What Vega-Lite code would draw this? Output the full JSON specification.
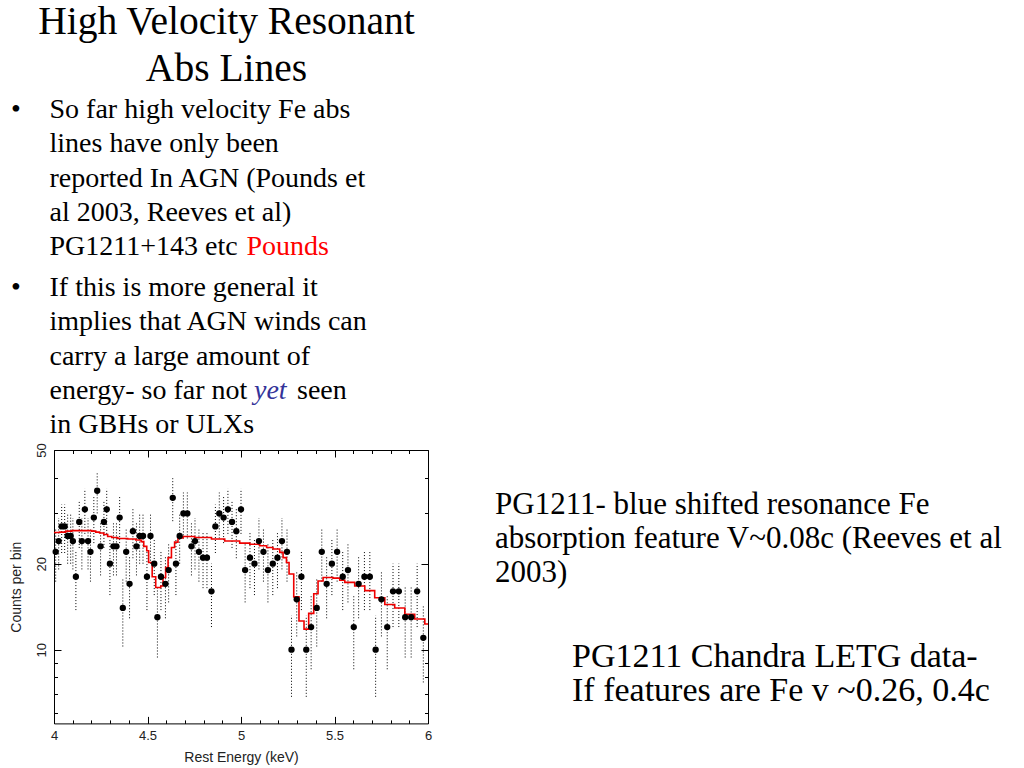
{
  "$schema": "https://vega.github.io/schema/vega-lite/v6.json",
  "background": "white",
  "padding": 0,
  "config": {"view": {"stroke": null}, "font": "Liberation Sans"},
  "columns": 2,
  "bounds": "flush",
  "align": "each",
  "center": true,
  "spacing": 0,
  "datasets": {
    "obs": [
      {"e":4.009,"n":22,"lo":17.31,"hi":26.69},{"e":4.025,"n":24,"lo":19.1,"hi":28.9},{"e":4.041,"n":27,"lo":21.8,"hi":32.2},{"e":4.057,"n":27,"lo":21.8,"hi":32.2},
      {"e":4.073,"n":25,"lo":20,"hi":30},{"e":4.089,"n":25,"lo":20,"hi":30},{"e":4.101,"n":24,"lo":19.1,"hi":28.9},{"e":4.117,"n":18,"lo":13.76,"hi":22.24},
      {"e":4.135,"n":28,"lo":22.71,"hi":33.29},{"e":4.149,"n":24,"lo":19.1,"hi":28.9},{"e":4.165,"n":31,"lo":25.43,"hi":36.57},{"e":4.182,"n":24,"lo":19.1,"hi":28.9},
      {"e":4.195,"n":22,"lo":17.31,"hi":26.69},{"e":4.213,"n":29,"lo":23.61,"hi":34.39},{"e":4.231,"n":36,"lo":30,"hi":42},{"e":4.249,"n":23,"lo":18.2,"hi":27.8},
      {"e":4.267,"n":28,"lo":22.71,"hi":33.29},{"e":4.282,"n":31,"lo":25.43,"hi":36.57},{"e":4.299,"n":20,"lo":15.53,"hi":24.47},{"e":4.318,"n":23,"lo":18.2,"hi":27.8},
      {"e":4.334,"n":23,"lo":18.2,"hi":27.8},{"e":4.351,"n":29,"lo":23.61,"hi":34.39},{"e":4.368,"n":14,"lo":10.26,"hi":17.74},{"e":4.386,"n":22,"lo":17.31,"hi":26.69},
      {"e":4.404,"n":17,"lo":12.88,"hi":21.12},{"e":4.422,"n":26,"lo":20.9,"hi":31.1},{"e":4.441,"n":23,"lo":18.2,"hi":27.8},{"e":4.458,"n":25,"lo":20,"hi":30},
      {"e":4.476,"n":25,"lo":20,"hi":30},{"e":4.497,"n":18,"lo":13.76,"hi":22.24},{"e":4.516,"n":25,"lo":20,"hi":30},{"e":4.536,"n":20,"lo":15.53,"hi":24.47},
      {"e":4.553,"n":13,"lo":9.39,"hi":16.61},{"e":4.572,"n":18,"lo":13.76,"hi":22.24},{"e":4.596,"n":17,"lo":12.88,"hi":21.12},{"e":4.613,"n":19,"lo":14.64,"hi":23.36},
      {"e":4.635,"n":34,"lo":28.17,"hi":39.83},{"e":4.652,"n":20,"lo":15.53,"hi":24.47},{"e":4.672,"n":25,"lo":20,"hi":30},{"e":4.692,"n":30,"lo":24.52,"hi":35.48},
      {"e":4.713,"n":30,"lo":24.52,"hi":35.48},{"e":4.735,"n":23,"lo":18.2,"hi":27.8},{"e":4.754,"n":24,"lo":19.1,"hi":28.9},{"e":4.775,"n":22,"lo":17.31,"hi":26.69},
      {"e":4.797,"n":21,"lo":16.42,"hi":25.58},{"e":4.818,"n":21,"lo":16.42,"hi":25.58},{"e":4.842,"n":16,"lo":12,"hi":20},{"e":4.863,"n":27,"lo":21.8,"hi":32.2},
      {"e":4.884,"n":30,"lo":24.52,"hi":35.48},{"e":4.907,"n":29,"lo":23.61,"hi":34.39},{"e":4.93,"n":31,"lo":25.43,"hi":36.57},{"e":4.952,"n":28,"lo":22.71,"hi":33.29},
      {"e":4.975,"n":26,"lo":20.9,"hi":31.1},{"e":5.0,"n":31,"lo":25.43,"hi":36.57},{"e":5.022,"n":19,"lo":14.64,"hi":23.36},{"e":5.048,"n":21,"lo":16.42,"hi":25.58},
      {"e":5.072,"n":20,"lo":15.53,"hi":24.47},{"e":5.096,"n":24,"lo":19.1,"hi":28.9},{"e":5.12,"n":22,"lo":17.31,"hi":26.69},{"e":5.144,"n":19,"lo":14.64,"hi":23.36},
      {"e":5.17,"n":20,"lo":15.53,"hi":24.47},{"e":5.195,"n":21,"lo":16.42,"hi":25.58},{"e":5.219,"n":24,"lo":19.1,"hi":28.9},{"e":5.246,"n":22,"lo":17.31,"hi":26.69},
      {"e":5.27,"n":10,"lo":6.84,"hi":13.16},{"e":5.298,"n":15,"lo":11.13,"hi":18.87},{"e":5.323,"n":18,"lo":13.76,"hi":22.24},{"e":5.349,"n":10,"lo":6.84,"hi":13.16},
      {"e":5.375,"n":12,"lo":8.54,"hi":15.46},{"e":5.405,"n":14,"lo":10.26,"hi":17.74},{"e":5.432,"n":22,"lo":17.31,"hi":26.69},{"e":5.458,"n":17,"lo":12.88,"hi":21.12},
      {"e":5.486,"n":20,"lo":15.53,"hi":24.47},{"e":5.514,"n":22,"lo":17.31,"hi":26.69},{"e":5.544,"n":18,"lo":13.76,"hi":22.24},{"e":5.572,"n":19,"lo":14.64,"hi":23.36},
      {"e":5.603,"n":12,"lo":8.54,"hi":15.46},{"e":5.629,"n":17,"lo":12.88,"hi":21.12},{"e":5.66,"n":18,"lo":13.76,"hi":22.24},{"e":5.689,"n":18,"lo":13.76,"hi":22.24},
      {"e":5.72,"n":10,"lo":6.84,"hi":13.16},{"e":5.751,"n":15,"lo":11.13,"hi":18.87},{"e":5.782,"n":12,"lo":8.54,"hi":15.46},{"e":5.813,"n":16,"lo":12,"hi":20},
      {"e":5.844,"n":16,"lo":12,"hi":20},{"e":5.878,"n":13,"lo":9.39,"hi":16.61},{"e":5.91,"n":13,"lo":9.39,"hi":16.61},{"e":5.942,"n":16,"lo":12,"hi":20},
      {"e":5.975,"n":11,"lo":7.68,"hi":14.32}
    ],
    "model": [
      {"e":4.0,"m":25.7},{"e":4.03,"m":25.8},{"e":4.063,"m":26.0},{"e":4.095,"m":26.1},{"e":4.202,"m":26.0},{"e":4.223,"m":25.8},
      {"e":4.244,"m":25.6},{"e":4.266,"m":25.3},{"e":4.287,"m":24.9},{"e":4.309,"m":24.7},{"e":4.341,"m":24.5},{"e":4.394,"m":24.4},
      {"e":4.437,"m":24.2},{"e":4.466,"m":23.9},{"e":4.48,"m":23.0},{"e":4.496,"m":22.2},{"e":4.506,"m":20.2},{"e":4.525,"m":18.0},
      {"e":4.544,"m":16.5},{"e":4.571,"m":16.7},{"e":4.583,"m":17.9},{"e":4.597,"m":19.4},{"e":4.61,"m":21.0},{"e":4.628,"m":22.8},
      {"e":4.645,"m":23.8},{"e":4.663,"m":24.6},{"e":4.69,"m":24.9},{"e":4.752,"m":24.7},{"e":4.842,"m":24.4},{"e":4.913,"m":24.0},
      {"e":4.993,"m":23.6},{"e":5.047,"m":23.4},{"e":5.1,"m":23.1},{"e":5.137,"m":22.8},{"e":5.171,"m":22.5},{"e":5.207,"m":21.9},
      {"e":5.225,"m":21.0},{"e":5.243,"m":20.2},{"e":5.257,"m":18.4},{"e":5.282,"m":15.3},{"e":5.31,"m":12.6},{"e":5.337,"m":11.8},
      {"e":5.362,"m":13.4},{"e":5.389,"m":15.7},{"e":5.412,"m":17.4},{"e":5.439,"m":17.9},{"e":5.492,"m":17.8},{"e":5.528,"m":17.5},
      {"e":5.555,"m":17.2},{"e":5.608,"m":16.7},{"e":5.662,"m":16.1},{"e":5.715,"m":15.2},{"e":5.769,"m":14.4},{"e":5.822,"m":14.0},
      {"e":5.876,"m":13.3},{"e":5.929,"m":12.8},{"e":5.983,"m":12.3},{"e":6.0,"m":12.3}
    ]
  },
  "concat": [
    {
      "width": 482,
      "height": 449.3,
      "layer": [
        {
          "data": {"values": [{"line": 1, "text": "High Velocity Resonant"}, {"line": 2, "text": "Abs Lines"}]},
          "mark": {"type": "text", "font": "Liberation Serif", "fontSize": 39.5, "align": "center", "baseline": "alphabetic", "dx": -14.5, "color": "black"},
          "encoding": {
            "y": {"field": "line", "type": "ordinal", "axis": null, "scale": {"type": "point", "padding": 0, "range": [34, 80.5]}},
            "text": {"field": "text"}
          }
        },
        {
          "data": {"values": [{"line": 1, "text": "•"}, {"line": 2, "text": "•"}]},
          "mark": {"type": "text", "font": "Liberation Serif", "fontSize": 28, "align": "left", "baseline": "alphabetic", "dx": -230, "color": "black"},
          "encoding": {
            "y": {"field": "line", "type": "ordinal", "axis": null, "scale": {"type": "point", "padding": 0, "range": [118, 296]}},
            "text": {"field": "text"}
          }
        },
        {
          "data": {"values": [
            {"line": 1, "text": "So far high velocity Fe abs"},
            {"line": 2, "text": "lines have only been"},
            {"line": 3, "text": "reported In AGN (Pounds et"},
            {"line": 4, "text": "al 2003, Reeves et al)"},
            {"line": 5, "text": "PG1211+143 etc"}
          ]},
          "mark": {"type": "text", "font": "Liberation Serif", "fontSize": 28, "align": "left", "baseline": "alphabetic", "dx": -191.5, "color": "black"},
          "encoding": {
            "y": {"field": "line", "type": "ordinal", "axis": null, "scale": {"type": "point", "padding": 0, "range": [118, 254.5]}},
            "text": {"field": "text"}
          }
        },
        {
          "data": {"values": [
            {"line": 1, "text": "If this is more general it"},
            {"line": 2, "text": "implies that AGN winds can"},
            {"line": 3, "text": "carry a large amount of"},
            {"line": 4, "text": "energy- so far not"},
            {"line": 5, "text": "in GBHs or ULXs"}
          ]},
          "mark": {"type": "text", "font": "Liberation Serif", "fontSize": 28, "align": "left", "baseline": "alphabetic", "dx": -191.5, "color": "black"},
          "encoding": {
            "y": {"field": "line", "type": "ordinal", "axis": null, "scale": {"type": "point", "padding": 0, "range": [296, 432.5]}},
            "text": {"field": "text"}
          }
        },
        {
          "data": {"values": [{"line": 5, "text": "Pounds"}]},
          "mark": {"type": "text", "font": "Liberation Serif", "fontSize": 28, "align": "left", "baseline": "alphabetic", "dx": 5.5, "color": "#ff0000"},
          "encoding": {
            "y": {"field": "line", "type": "ordinal", "axis": null, "scale": {"type": "point", "padding": 0, "range": [254.5, 254.5]}},
            "text": {"field": "text"}
          }
        },
        {
          "data": {"values": [{"line": 4, "text": "yet"}]},
          "mark": {"type": "text", "font": "Liberation Serif", "fontSize": 28, "fontStyle": "italic", "align": "left", "baseline": "alphabetic", "dx": 13, "color": "#333399"},
          "encoding": {
            "y": {"field": "line", "type": "ordinal", "axis": null, "scale": {"type": "point", "padding": 0, "range": [398.5, 398.5]}},
            "text": {"field": "text"}
          }
        },
        {
          "data": {"values": [{"line": 4, "text": "seen"}]},
          "mark": {"type": "text", "font": "Liberation Serif", "fontSize": 28, "align": "left", "baseline": "alphabetic", "dx": 56, "color": "black"},
          "encoding": {
            "y": {"field": "line", "type": "ordinal", "axis": null, "scale": {"type": "point", "padding": 0, "range": [398.5, 398.5]}},
            "text": {"field": "text"}
          }
        }
      ],
      "resolve": {"scale": {"y": "independent"}}
    },
    {
      "width": 542,
      "height": 449.3,
      "layer": [
        {
          "data": {"values": [
            {"line": 1, "text": "PG1211- blue shifted resonance Fe"},
            {"line": 2, "text": "absorption feature V~0.08c (Reeves et al"},
            {"line": 3, "text": "2003)"}
          ]},
          "mark": {"type": "text", "font": "Liberation Serif", "fontSize": 31, "align": "left", "baseline": "alphabetic", "dx": -258, "color": "black"},
          "encoding": {
            "y": {"field": "line", "type": "ordinal", "axis": null, "scale": {"type": "point", "padding": 0, "range": [514, 582]}},
            "text": {"field": "text"}
          }
        },
        {
          "data": {"values": [
            {"line": 1, "text": "PG1211 Chandra LETG data-"},
            {"line": 2, "text": "If features are Fe v ~0.26, 0.4c"}
          ]},
          "mark": {"type": "text", "font": "Liberation Serif", "fontSize": 34, "align": "left", "baseline": "alphabetic", "dx": -181, "color": "black"},
          "encoding": {
            "y": {"field": "line", "type": "ordinal", "axis": null, "scale": {"type": "point", "padding": 0, "range": [667, 701]}},
            "text": {"field": "text"}
          }
        }
      ],
      "resolve": {"scale": {"y": "independent"}}
    },
    {
      "width": 374,
      "height": 273.4,
      "layer": [
        {
          "data": {"name": "obs"},
          "mark": {"type": "rule", "color": "black", "strokeWidth": 1, "strokeDash": [1, 2]},
          "encoding": {
            "x": {
              "field": "e", "type": "quantitative",
              "scale": {"domain": [4, 6], "nice": false, "zero": false},
              "axis": {
                "orient": "bottom",
                "values": [4,4.1,4.2,4.3,4.4,4.5,4.6,4.7,4.8,4.9,5,5.1,5.2,5.3,5.4,5.5,5.6,5.7,5.8,5.9,6],
                "format": "~g",
                "labelExpr": "abs(datum.value*2-round(datum.value*2)) < 0.001 ? datum.label : ''",
                "labelFlush": false, "labelOverlap": false,
                "tickSize": -7,
                "tickDash": {"condition": {"test": "abs(datum.value*2-round(datum.value*2)) > 0.001", "value": [3.5, 20]}, "value": [8, 0]},
                "tickColor": "black", "tickWidth": 1, "domainColor": "black", "domainWidth": 1, "grid": false,
                "labelFont": "Liberation Sans", "labelFontSize": 13, "labelColor": "#222", "labelPadding": 13,
                "title": "Rest Energy (keV)", "titleFont": "Liberation Sans", "titleFontSize": 14, "titleFontWeight": "normal", "titleColor": "#222", "titlePadding": 8
              }
            },
            "y": {
              "field": "lo", "type": "quantitative",
              "scale": {"type": "log", "domain": [5.52, 50], "nice": false},
              "axis": {
                "orient": "left",
                "values": [6,7,8,9,10,20,30,40,50],
                "format": "~g",
                "labelExpr": "indexof([10,20,50], datum.value) >= 0 ? datum.label : ''",
                "labelOverlap": false, "labelFlush": false,
                "labelAngle": -90, "labelAlign": "center", "labelBaseline": "alphabetic",
                "tickSize": -7,
                "tickDash": {"condition": {"test": "indexof([10,20,50], datum.value) < 0", "value": [3.5, 20]}, "value": [8, 0]},
                "tickColor": "black", "tickWidth": 1, "domainColor": "black", "domainWidth": 1, "grid": false,
                "labelFont": "Liberation Sans", "labelFontSize": 13, "labelColor": "#222", "labelPadding": 16,
                "title": "Counts per bin", "titleFont": "Liberation Sans", "titleFontSize": 14, "titleFontWeight": "normal", "titleColor": "#222", "titlePadding": 12
              }
            },
            "y2": {"field": "hi"}
          }
        },
        {
          "data": {"name": "model"},
          "mark": {"type": "line", "interpolate": "step-after", "color": "#ee0000", "strokeWidth": 1.6},
          "encoding": {
            "x": {"field": "e", "type": "quantitative", "axis": null},
            "y": {"field": "m", "type": "quantitative", "axis": null}
          }
        },
        {
          "data": {"name": "obs"},
          "mark": {"type": "circle", "size": 40, "color": "black", "opacity": 1},
          "encoding": {
            "x": {
              "field": "e", "type": "quantitative",
              "axis": {
                "orient": "top", "labels": false, "title": null,
                "values": [4,4.1,4.2,4.3,4.4,4.5,4.6,4.7,4.8,4.9,5,5.1,5.2,5.3,5.4,5.5,5.6,5.7,5.8,5.9,6],
                "tickSize": -7,
                "tickDash": {"condition": {"test": "abs(datum.value*2-round(datum.value*2)) > 0.001", "value": [3.5, 20]}, "value": [8, 0]},
                "tickColor": "black", "tickWidth": 1, "domainColor": "black", "domainWidth": 1, "grid": false
              }
            },
            "y": {
              "field": "n", "type": "quantitative",
              "axis": {
                "orient": "right", "labels": false, "title": null,
                "values": [6,7,8,9,10,20,30,40,50],
                "tickSize": -7,
                "tickDash": {"condition": {"test": "indexof([10,20,50], datum.value) < 0", "value": [3.5, 20]}, "value": [8, 0]},
                "tickColor": "black", "tickWidth": 1, "domainColor": "black", "domainWidth": 1, "grid": false
              }
            }
          }
        }
      ],
      "resolve": {"axis": {"x": "independent", "y": "independent"}}
    }
  ]
}
